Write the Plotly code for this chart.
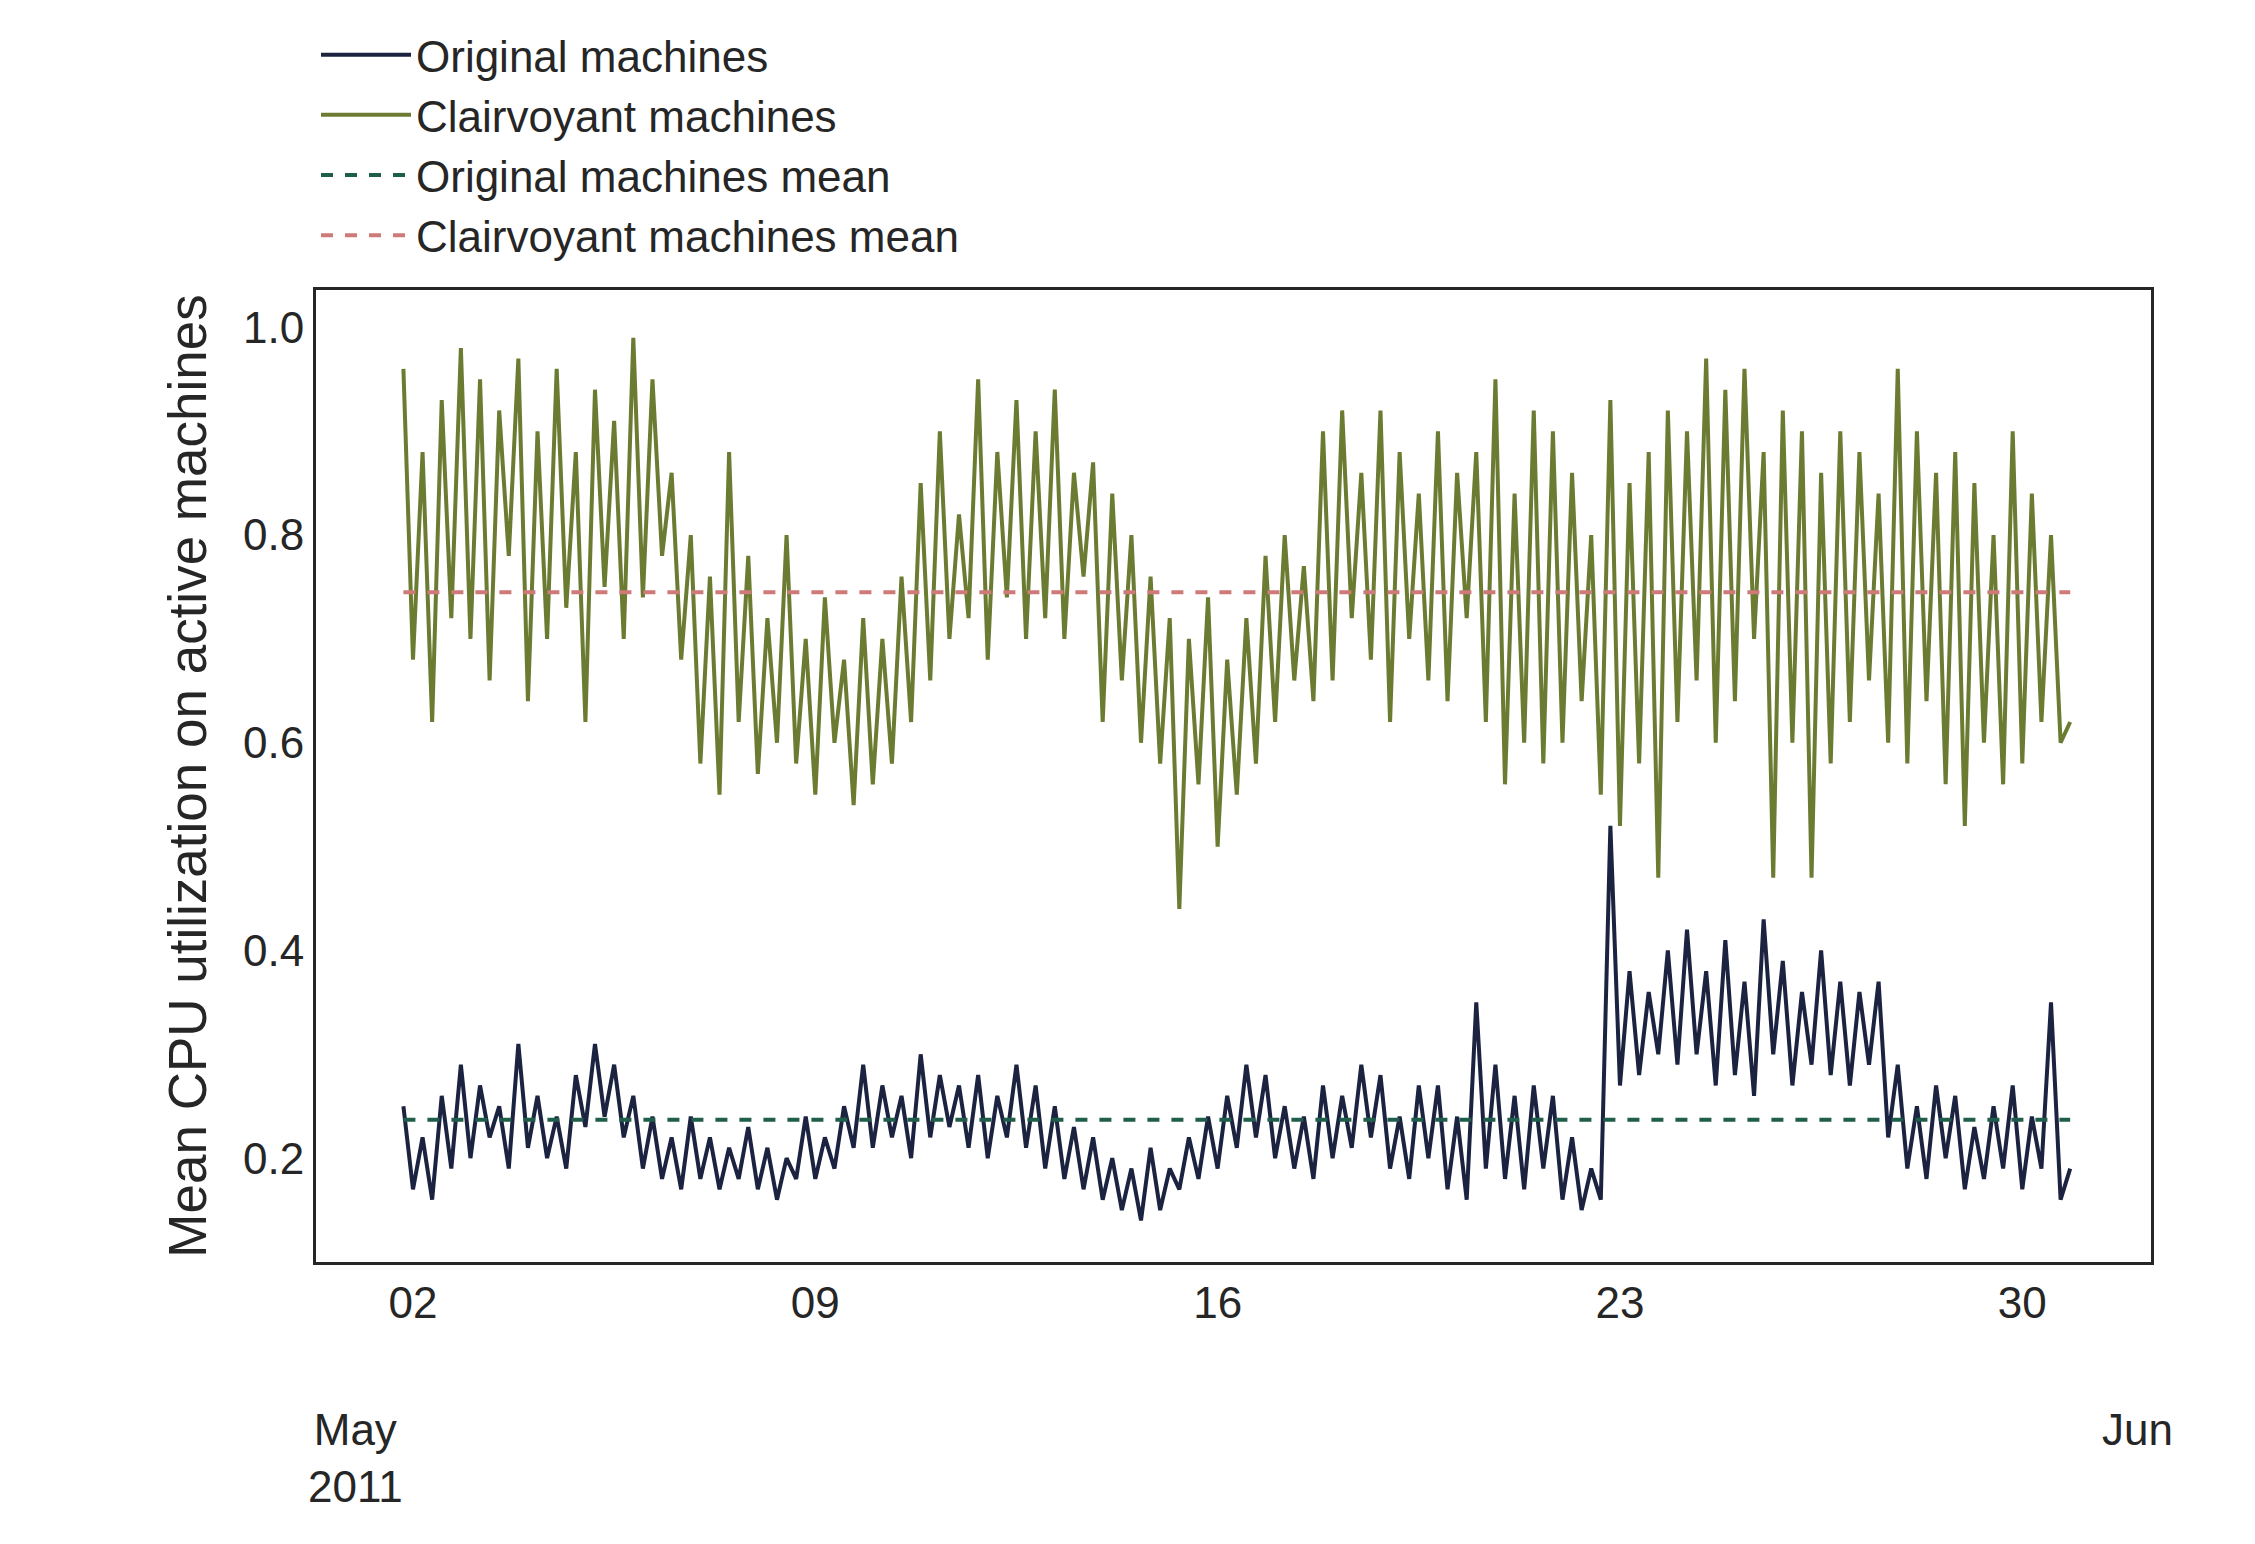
import pandas as pd
import plotly.graph_objects as go

clairvoyant = [
0.96,0.68,0.88,0.62,0.93,0.72,
0.98,0.70,0.95,0.66,0.92,0.78,
0.97,0.64,0.90,0.70,0.96,0.73,
0.88,0.62,0.94,0.75,0.91,0.70,
0.99,0.74,0.95,0.78,0.86,0.68,
0.80,0.58,0.76,0.55,0.88,0.62,
0.78,0.57,0.72,0.60,0.80,0.58,
0.70,0.55,0.74,0.60,0.68,0.54,
0.72,0.56,0.70,0.58,0.76,0.62,
0.85,0.66,0.90,0.70,0.82,0.72,
0.95,0.68,0.88,0.74,0.93,0.70,
0.90,0.72,0.94,0.70,0.86,0.76,
0.87,0.62,0.84,0.66,0.80,0.60,
0.76,0.58,0.72,0.44,0.70,0.56,
0.74,0.50,0.68,0.55,0.72,0.58,
0.78,0.62,0.80,0.66,0.77,0.64,
0.90,0.66,0.92,0.72,0.86,0.68,
0.92,0.62,0.88,0.70,0.84,0.66,
0.90,0.64,0.86,0.72,0.88,0.62,
0.95,0.56,0.84,0.60,0.92,0.58,
0.90,0.60,0.86,0.64,0.80,0.55,
0.93,0.52,0.85,0.58,0.88,0.47,
0.92,0.62,0.90,0.66,0.97,0.60,
0.94,0.64,0.96,0.70,0.88,0.47,
0.92,0.60,0.90,0.47,0.86,0.58,
0.90,0.62,0.88,0.66,0.84,0.60,
0.96,0.58,0.90,0.64,0.86,0.56,
0.88,0.52,0.85,0.60,0.80,0.56,
0.90,0.58,0.84,0.62,0.80,0.60,
0.62]

original = [
0.25,0.17,0.22,0.16,0.26,0.19,
0.29,0.20,0.27,0.22,0.25,0.19,
0.31,0.21,0.26,0.20,0.24,0.19,
0.28,0.23,0.31,0.24,0.29,0.22,
0.26,0.19,0.24,0.18,0.22,0.17,
0.24,0.18,0.22,0.17,0.21,0.18,
0.23,0.17,0.21,0.16,0.20,0.18,
0.24,0.18,0.22,0.19,0.25,0.21,
0.29,0.21,0.27,0.22,0.26,0.20,
0.30,0.22,0.28,0.23,0.27,0.21,
0.28,0.20,0.26,0.22,0.29,0.21,
0.27,0.19,0.25,0.18,0.23,0.17,
0.22,0.16,0.20,0.15,0.19,0.14,
0.21,0.15,0.19,0.17,0.22,0.18,
0.24,0.19,0.26,0.21,0.29,0.22,
0.28,0.20,0.25,0.19,0.24,0.18,
0.27,0.20,0.26,0.21,0.29,0.22,
0.28,0.19,0.24,0.18,0.27,0.20,
0.27,0.17,0.24,0.16,0.35,0.19,
0.29,0.18,0.26,0.17,0.27,0.19,
0.26,0.16,0.22,0.15,0.19,0.16,
0.52,0.27,0.38,0.28,0.36,0.30,
0.40,0.29,0.42,0.30,0.38,0.27,
0.41,0.28,0.37,0.26,0.43,0.30,
0.39,0.27,0.36,0.29,0.40,0.28,
0.37,0.27,0.36,0.29,0.37,0.22,
0.29,0.19,0.25,0.18,0.27,0.20,
0.26,0.17,0.23,0.18,0.25,0.19,
0.27,0.17,0.24,0.19,0.35,0.16,
0.19]

original_mean = 0.237
clairvoyant_mean = 0.745
tick_dates = ["2011-05-02", "2011-05-09", "2011-05-16", "2011-05-23", "2011-05-30"]
tick_labels = ["02", "09", "16", "23", "30"]
month_dates = ["2011-05-01", "2011-06-01"]
month_labels = ["May<br>2011", "Jun"]

t = pd.date_range("2011-05-01 20:00", periods=len(original), freq="4h")
t0, t1 = t[0], t[-1]

NAVY = "#1b2341"; OLIVE = "#6b7c32"; DGREEN = "#1f5e4a"; PINK = "#cd7a78"
FONT = dict(family="Liberation Sans, Arial, sans-serif", size=44, color="#262626")

fig = go.Figure()
fig.add_trace(go.Scatter(x=t, y=original, mode="lines", name="Original machines",
                         line=dict(color=NAVY, width=4)))
fig.add_trace(go.Scatter(x=t, y=clairvoyant, mode="lines", name="Clairvoyant machines",
                         line=dict(color=OLIVE, width=4)))
fig.add_trace(go.Scatter(x=[t0, t1], y=[original_mean]*2, mode="lines", name="Original machines mean",
                         line=dict(color=DGREEN, width=4, dash="dash")))
fig.add_trace(go.Scatter(x=[t0, t1], y=[clairvoyant_mean]*2, mode="lines", name="Clairvoyant machines mean",
                         line=dict(color=PINK, width=4, dash="dash")))

for d, lab in zip(month_dates, month_labels):
    fig.add_annotation(x=d, y=-0.145, xref="x", yref="paper", text=lab, showarrow=False,
                       yanchor="top", font=FONT)

fig.update_layout(
    width=2255, height=1544, paper_bgcolor="white", plot_bgcolor="white", font=FONT,
    margin=dict(l=308, r=112, t=239, b=290),
    legend=dict(orientation="h", x=0.0, xanchor="left", y=1.02, yanchor="bottom",
                entrywidth=820, entrywidthmode="pixels", itemwidth=90, font=FONT,
                bgcolor="rgba(0,0,0,0)"),
    xaxis=dict(range=["2011-04-30 07:30", "2011-06-01 05:45"], tickvals=tick_dates,
               ticktext=tick_labels, showgrid=False, zeroline=False, showline=True,
               mirror=True, linecolor="#262626", linewidth=3, ticks="", automargin=False),
    yaxis=dict(range=[0.1, 1.036], tickvals=[0.2, 0.4, 0.6, 0.8, 1.0],
               ticktext=["0.2", "0.4", "0.6", "0.8", "1.0"], showgrid=False, zeroline=False,
               showline=True, mirror=True, linecolor="#262626", linewidth=3, ticks="",
               automargin=False,
               title=dict(text="Mean CPU utilization on active machines", standoff=20)),
)
fig.write_html("out.html")
